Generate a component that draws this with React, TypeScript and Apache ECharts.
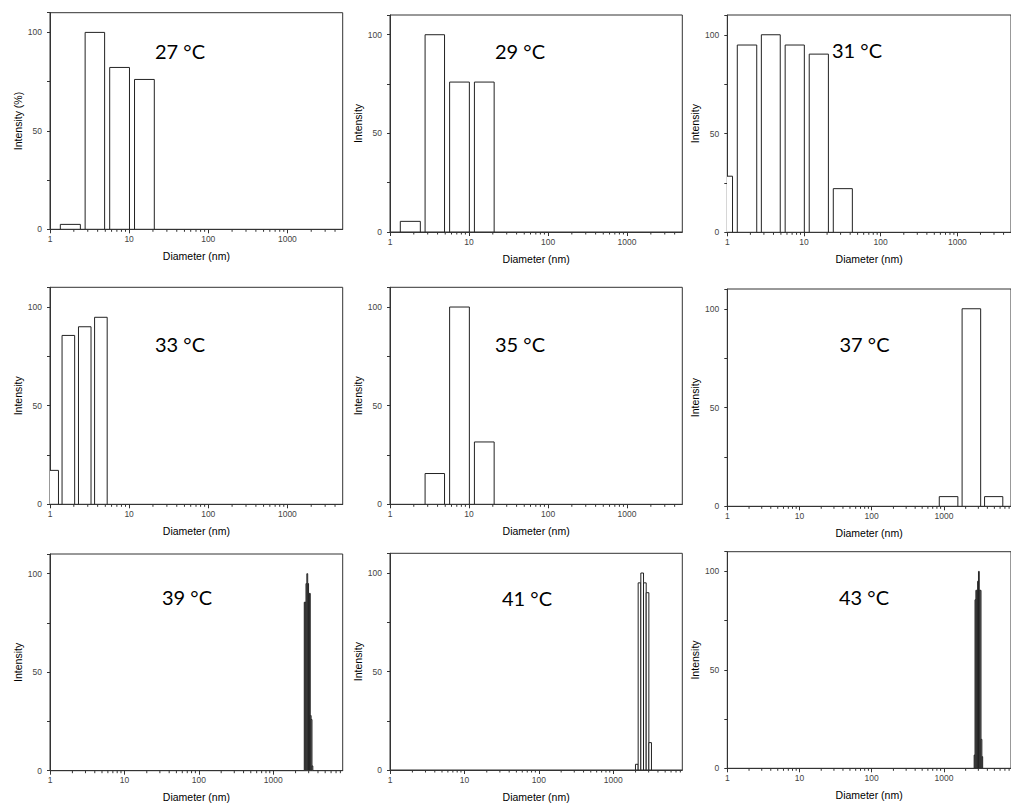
import React, { useEffect, useRef } from 'react';
import * as echarts from 'echarts';

// Each bin: [lower diameter (nm), upper diameter (nm), intensity]
const bins27 = [[1.35, 2.42, 2.5], [2.78, 4.9, 100], [5.68, 10.1, 82.2], [11.7, 20.8, 76.1]];
const bins29 = [[1.35, 2.42, 5.4], [2.78, 4.9, 100], [5.68, 10.1, 76], [11.7, 20.8, 76]];
const bins31 = [[0.66, 1.17, 28.4], [1.35, 2.42, 94.8], [2.78, 4.9, 100], [5.68, 10.1, 94.8], [11.7, 20.8, 90.2], [24.1, 42.7, 22.1]];
const bins33 = [[0.88, 1.28, 17.2], [1.42, 2.05, 85.6], [2.29, 3.3, 90], [3.66, 5.28, 94.8]];
const bins35 = [[2.78, 4.9, 15.6], [5.68, 10.1, 100], [11.7, 20.8, 31.6]];
const bins37 = [[863, 1561, 4.9], [1787, 3230, 100], [3659, 6546, 4.9]];
const bins39 = [[2618, 2688, 85.5], [2688, 2761, 85.5], [2761, 2835, 95], [2835, 2911, 100], [2911, 2989, 95], [2989, 3069, 90], [3069, 3152, 90], [3152, 3236, 28], [3236, 3323, 26], [3323, 3412, 2.4]];
const bins41 = [[1995, 2168, 2.9], [2168, 2355, 95], [2355, 2559, 100], [2559, 2780, 95], [2780, 3020, 90], [3020, 3273, 13.9]];
const bins43 = [[2624, 2698, 6.7], [2698, 2773, 85.6], [2773, 2851, 90.4], [2851, 2931, 90.4], [2931, 3013, 95], [3013, 3090, 100], [3090, 3177, 90.4], [3177, 3266, 90.4], [3266, 3357, 14.7], [3357, 3443, 5.9]];

const panelBins = [bins27, bins29, bins31, bins33, bins35, bins37, bins39, bins41, bins43];
const temperatures = ['27 °C', '29 °C', '31 °C', '33 °C', '35 °C', '37 °C', '39 °C', '41 °C', '43 °C'];
const yTitles = ['Intensity (%)', 'Intensity', 'Intensity', 'Intensity', 'Intensity', 'Intensity', 'Intensity', 'Intensity', 'Intensity'];
const xTitle = 'Diameter (nm)';
const xMin = 1;
const xMaxes = [5000, 5000, 5000, 5000, 5000, 8500, 8600, 8500, 8500];
const yMax = 110;
const yLabelTicks = [0, 50, 100];
const xMinorTicks = [2, 3, 4, 5, 6, 7, 8, 9, 20, 30, 40, 50, 60, 70, 80, 90, 200, 300, 400, 500, 600, 700, 800, 900, 2000, 3000, 4000, 5000, 6000, 7000, 8000, 9000];

// layout (pixels)
const grids = [
  { left: 50, top: 12.7, width: 292.7, height: 216.6 },
  { left: 390, top: 15, width: 292.3, height: 217 },
  { left: 727.3, top: 15, width: 292.2, height: 217.3 },
  { left: 50, top: 287.3, width: 292.7, height: 217 },
  { left: 390, top: 287.3, width: 292.3, height: 217 },
  { left: 727.3, top: 289, width: 290.4, height: 217.3 },
  { left: 50, top: 554, width: 292.7, height: 216.7 },
  { left: 390, top: 553.3, width: 292.3, height: 216.7 },
  { left: 727.3, top: 551.7, width: 290.4, height: 216.6 },
];
const labelPos = [
  [180, 50.5], [520, 50.5], [857, 49.5],
  [180, 344], [520, 344], [864.5, 344],
  [187, 597], [527, 598], [864, 597],
];

const AX = '#333';

export default function App() {
  const ref = useRef<HTMLDivElement>(null);
  useEffect(() => {
    if (!ref.current) return;
    const chart = echarts.init(ref.current, null, { renderer: 'svg' });
    const xAxis: any[] = [];
    const yAxis: any[] = [];
    const series: any[] = [];
    const graphic: any[] = [];
    grids.forEach((g, i) => {
      xAxis.push({
        gridIndex: i,
        type: 'log',
        logBase: 10,
        min: xMin,
        max: xMaxes[i],
        axisLine: { show: true, lineStyle: { color: AX, width: 1 } },
        axisTick: { show: true, length: 4, lineStyle: { color: AX } },
        axisLabel: {
          fontSize: 8.5, color: '#444', margin: 5, fontFamily: 'Liberation Sans',
          showMaxLabel: false,
          formatter: (v: number) => String(Math.round(v)),
        },
        splitLine: { show: false },
        name: xTitle,
        nameLocation: 'middle',
        nameGap: 21,
        nameTextStyle: { fontSize: 10.5, color: '#000', fontFamily: 'Liberation Sans' },
      });
      yAxis.push({
        gridIndex: i,
        type: 'value',
        min: 0,
        max: yMax,
        interval: 25,
        axisLine: { show: true, lineStyle: { color: AX, width: 1 } },
        axisTick: { show: true, length: 3, lineStyle: { color: AX } },
        axisLabel: {
          fontSize: 8.5, color: '#444', margin: 8, fontFamily: 'Liberation Sans',
          formatter: (v: number) => (yLabelTicks.includes(v) ? String(v) : ''),
        },
        splitLine: { show: false },
        name: yTitles[i],
        nameLocation: 'middle',
        nameGap: 27,
        nameRotate: 90,
        nameTextStyle: { fontSize: 10.5, color: '#000', fontFamily: 'Liberation Sans' },
      });
      series.push({
        type: 'custom',
        xAxisIndex: i,
        yAxisIndex: i,
        clip: true,
        silent: true,
        encode: { x: [0, 1], y: 2 },
        data: panelBins[i],
        renderItem: (_p: any, api: any) => {
          const a = api.coord([api.value(0), 0]);
          const b = api.coord([api.value(1), api.value(2)]);
          return {
            type: 'rect',
            shape: { x: a[0], y: b[1], width: b[0] - a[0], height: a[1] - b[1] },
            style: { fill: '#fff', stroke: '#222', lineWidth: 1 },
          };
        },
      });
      series.push({
        type: 'custom',
        xAxisIndex: i,
        yAxisIndex: i,
        clip: false,
        silent: true,
        encode: { x: 0, y: 1 },
        data: xMinorTicks.filter((t) => t < xMaxes[i]).map((t) => [t, 0]),
        renderItem: (_p: any, api: any) => {
          const p = api.coord([api.value(0), 0]);
          return {
            type: 'line',
            shape: { x1: p[0], y1: p[1], x2: p[0], y2: p[1] + 2.5 },
            style: { stroke: AX, lineWidth: 1 },
          };
        },
      });
      graphic.push({
        type: 'text',
        x: labelPos[i][0],
        y: labelPos[i][1],
        style: {
          text: temperatures[i],
          fontSize: 20,
          fontFamily: 'Lato',
          fill: '#000',
          textAlign: 'center',
          textVerticalAlign: 'middle',
        },
      });
    });
    chart.setOption({
      animation: false,
      backgroundColor: '#fff',
      grid: grids.map((g) => ({ ...g, show: true, borderColor: AX, borderWidth: 1, backgroundColor: 'transparent', containLabel: false })),
      xAxis,
      yAxis,
      series,
      graphic,
    });
    return () => chart.dispose();
  }, []);
  return <div ref={ref} style={{ position: 'absolute', left: 0, top: 0, width: 1011, height: 808, overflow: 'hidden' }} />;
}
